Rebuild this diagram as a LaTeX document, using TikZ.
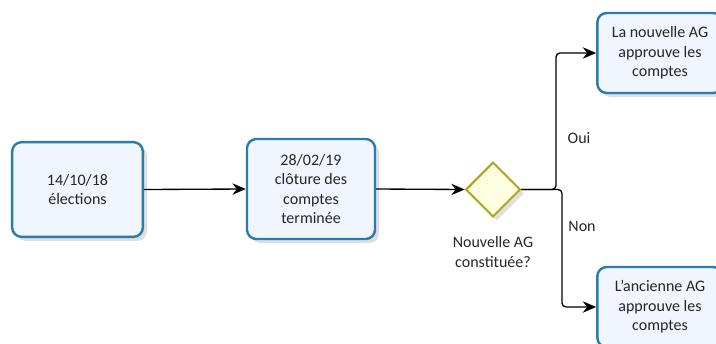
\documentclass[tikz,border=0pt]{standalone}
\usepackage{fontspec}
\setmainfont{Carlito}
\usetikzlibrary{shapes.geometric, shadows, arrows.meta}
\definecolor{taskblue}{HTML}{2C7BAF}
\definecolor{taskfill}{HTML}{F1F5FD}
\definecolor{gateline}{HTML}{A9A71C}
\definecolor{gatefill}{HTML}{FDFDE0}
\tikzset{
  task/.style={draw=taskblue, fill=taskfill, line width=1.8pt, rounded corners=7pt,
    align=center, inner sep=0pt, text=black!85,
    drop shadow={opacity=0.25, shadow xshift=3pt, shadow yshift=-3pt}},
  gate/.style={diamond, draw=gateline, fill=gatefill, line width=1.5pt, inner sep=0pt,
    minimum size=41pt, drop shadow={opacity=0.25, shadow xshift=3pt, shadow yshift=-3pt}},
  flow/.style={line width=1pt, -{Stealth[length=10pt,width=8.5pt]}, rounded corners=3pt}
}
\begin{document}
\begin{tikzpicture}[x=0.75pt, y=-0.75pt, font=\fontsize{12}{14.6}\selectfont]
\useasboundingbox (0,0) rectangle (716,343);
\clip (0,0) rectangle (716,343);
%boxes
\node[task, minimum width=98pt, minimum height=71pt] (vote) at (77.5,189.5) {14/10/18\\élections};
\node[task, minimum width=96pt, minimum height=75pt] (cloture) at (311,189) {28/02/19\\clôture des\\comptes\\terminée};
\node[gate] (ag) at (493,189.5) {};
\node[text=black!85, align=center] (aglabel) at (493,252) {Nouvelle AG\\constituée?};
\node[task, minimum width=94pt, minimum height=60pt] (newag) at (660,53) {La nouvelle AG\\approuve les\\comptes};
\node[task, minimum width=94pt, minimum height=60pt] (oldag) at (660,307) {L'ancienne AG\\approuve les\\comptes};
%arrows
\coordinate (yes) at (556,189.5);
\coordinate (no) at (562,189.5);
\draw[flow] (vote.east) -- (cloture.west);
\draw[flow] (cloture.east) -- (ag.west);
\draw[flow] (ag.east) -- (yes) |- (newag.west);
\draw[flow] (ag.east) -- (no) |- (oldag.west);
\node[text=black!85] (oui) at (579,138) {Oui};
\node[text=black!85] (non) at (582,226) {Non};
\end{tikzpicture}
\end{document}
